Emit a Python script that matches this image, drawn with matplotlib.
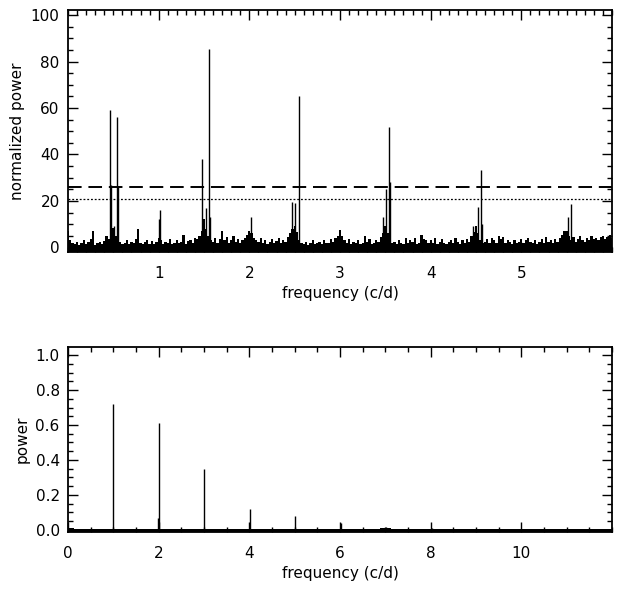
import numpy as np
import matplotlib
matplotlib.use("Agg")
import matplotlib.pyplot as plt
from matplotlib.ticker import MultipleLocator, FixedLocator, FormatStrFormatter

# ---------------- data ----------------
# top panel: normalized periodogram
top_noise_step = 0.025
top_noise = [
    7.0, 3.0, 2.0, 1.5, 2.5, 1.2, 2.0, 3.0, 1.5, 2.2, 3.5, 7.0, 1.0, 1.8, 2.5, 1.5, 2.8, 5.0, 3.5, 5.5,
    8.5, 5.0, 4.0, 2.5, 1.5, 2.0, 3.0, 1.5, 2.5, 1.8, 3.5, 8.0, 2.0, 1.5, 2.5, 3.0, 1.5, 2.8, 1.5, 2.2,
    4.0, 3.0, 1.5, 2.5, 2.0, 3.5, 1.5, 2.0, 3.0, 1.8, 2.5, 5.5, 1.5, 2.8, 3.0, 2.0, 4.0, 3.5, 5.0, 7.0,
    12.0, 8.0, 5.0, 3.0, 2.5, 4.0, 2.0, 3.5, 7.0, 3.0, 4.5, 2.0, 3.0, 5.0, 2.5, 3.5, 2.0, 3.0, 4.0, 5.5,
    7.0, 6.0, 4.0, 3.0, 2.5, 4.0, 2.0, 3.0, 1.5, 2.5, 3.5, 2.0, 2.8, 4.0, 2.0, 3.0, 2.5, 4.5, 6.0, 8.0,
    9.0, 6.5, 3.0, 2.0, 1.5, 2.5, 1.0, 2.0, 3.0, 1.5, 2.0, 2.5, 1.5, 3.0, 2.0, 1.8, 3.5, 2.5, 4.0, 5.0,
    7.5, 5.0, 3.0, 2.0, 3.5, 1.5, 2.5, 2.0, 3.0, 1.5, 2.0, 5.0, 2.5, 3.5, 1.5, 2.0, 3.0, 2.5, 4.5, 6.0,
    9.0, 6.0, 3.0, 2.0, 2.5, 1.5, 3.0, 2.0, 1.5, 4.0, 2.0, 3.0, 2.5, 4.0, 1.5, 2.0, 5.5, 3.5, 3.0, 2.0,
    3.0, 2.0, 4.0, 1.5, 2.5, 3.5, 2.0, 1.5, 2.5, 3.0, 2.0, 4.0, 2.5, 1.5, 3.0, 2.0, 3.5, 2.5, 5.0, 6.5,
    9.0, 6.0, 3.0, 2.0, 2.5, 3.5, 2.0, 4.0, 3.0, 2.0, 5.0, 3.5, 4.5, 2.0, 3.0, 2.5, 1.5, 3.0, 2.0, 2.5,
    3.5, 2.0, 3.0, 4.0, 2.5, 2.0, 3.0, 1.5, 2.5, 3.5, 2.0, 4.5, 2.5, 3.0, 2.0, 3.5, 2.5, 4.0, 5.5, 7.0,
    7.0, 5.0, 3.0, 4.5, 2.5, 3.5, 5.0, 3.0, 2.5, 4.0, 3.0, 5.0, 3.5, 4.0, 3.0, 4.5, 5.0, 3.5, 4.5, 5.5,
    4.0,
]
top_peak_freq = [0.463, 0.475, 0.505, 0.540, 0.553, 1.000, 1.010, 1.474, 1.520, 1.555, 1.565,
                 2.014, 2.470, 2.505, 2.544, 3.476, 3.510, 3.543, 3.552, 4.470, 4.524, 4.553,
                 4.562, 5.520, 5.546]
top_peak_power = [59.0, 27.0, 9.0, 56.0, 26.0, 12.0, 16.0, 38.0, 17.0, 85.5, 13.0,
                  13.0, 19.5, 19.0, 65.0, 13.0, 25.0, 52.0, 28.0, 9.0, 17.5, 33.5,
                  10.0, 13.0, 18.5]
level_dashed = 26.0
level_dotted = 21.0
top_xticks = [1, 2, 3, 4, 5]
top_yticks = [0, 20, 40, 60, 80, 100]

# bottom panel: spectral window
bot_noise_step = 0.25
bot_noise = [
    0.012, 0.006, 0.004, 0.005, 0.003, 0.005, 0.004, 0.003, 0.006, 0.004, 0.003, 0.005,
    0.004, 0.006, 0.003, 0.004, 0.007, 0.004, 0.003, 0.005, 0.006, 0.004, 0.003, 0.005,
    0.004, 0.003, 0.004, 0.005, 0.008, 0.004, 0.003, 0.005, 0.006, 0.004, 0.005, 0.003,
    0.004, 0.005, 0.004, 0.003, 0.005, 0.004, 0.005, 0.003, 0.004, 0.005, 0.004, 0.005,
    0.004,
]
bot_peak_freq = [1.003, 1.995, 2.005, 3.008, 4.010, 5.013, 6.016, 7.020, 8.020]
bot_peak_power = [0.72, 0.066, 0.61, 0.346, 0.12, 0.076, 0.04, 0.014, 0.01]
bot_xticks = [0, 2, 4, 6, 8, 10]
bot_yticks = [0.0, 0.2, 0.4, 0.6, 0.8, 1.0]

# ---------------- figure ----------------
plt.rcParams['font.family'] = ['DejaVu Sans']
fig = plt.figure(figsize=(6.18, 5.96), dpi=100)

ax1 = fig.add_axes([68 / 618, 1 - 252 / 596, 544 / 618, 242 / 596])
ax2 = fig.add_axes([68 / 618, 1 - 532 / 596, 544 / 618, 185 / 596])

def style(ax):
    for s in ax.spines.values():
        s.set_linewidth(1.3)
        s.set_color('black')
    ax.tick_params(which='both', direction='in', top=True, right=True,
                   colors='black', labelsize=11, width=1.0)
    ax.tick_params(which='major', length=7)
    ax.tick_params(which='minor', length=3.5)
    ax.tick_params(axis='x', pad=10)
    ax.tick_params(axis='y', pad=6)

# top panel
y1min, y1max = -2, 102.2
tf = np.arange(len(top_noise)) * top_noise_step
ax1.fill_between(tf, y1min, top_noise, step='mid', color='black', linewidth=0)
ax1.vlines(top_peak_freq, y1min, top_peak_power, color='black', linewidth=1.0)
ax1.axhline(level_dashed, color='black', linewidth=1.4, linestyle=(0, (7, 3.5)))
ax1.axhline(level_dotted, color='black', linewidth=0.9, linestyle=(0, (1.5, 1.5)))
ax1.set_xlim(0, 6)
ax1.set_ylim(y1min, y1max)
ax1.xaxis.set_major_locator(FixedLocator(top_xticks))
ax1.xaxis.set_minor_locator(MultipleLocator(0.1))
ax1.yaxis.set_major_locator(FixedLocator(top_yticks))
ax1.yaxis.set_minor_locator(MultipleLocator(5))
style(ax1)
ax1.set_xlabel('frequency (c/d)', fontsize=11, labelpad=4)
ax1.set_ylabel('normalized power', fontsize=11, labelpad=4)

# bottom panel
y2min, y2max = -0.013, 1.047
bf = np.arange(len(bot_noise)) * bot_noise_step
ax2.fill_between(bf, y2min, bot_noise, step='mid', color='black', linewidth=0)
ax2.vlines(bot_peak_freq, y2min, bot_peak_power, color='black', linewidth=1.0)
ax2.set_xlim(0, 12)
ax2.set_ylim(y2min, y2max)
ax2.xaxis.set_major_locator(FixedLocator(bot_xticks))
ax2.xaxis.set_minor_locator(MultipleLocator(0.5))
ax2.yaxis.set_major_locator(FixedLocator(bot_yticks))
ax2.yaxis.set_minor_locator(MultipleLocator(0.05))
ax2.yaxis.set_major_formatter(FormatStrFormatter('%.1f'))
style(ax2)
ax2.set_xlabel('frequency (c/d)', fontsize=11, labelpad=4)
ax2.set_ylabel('power', fontsize=11, labelpad=4)

fig.savefig('out.png', dpi=100)
